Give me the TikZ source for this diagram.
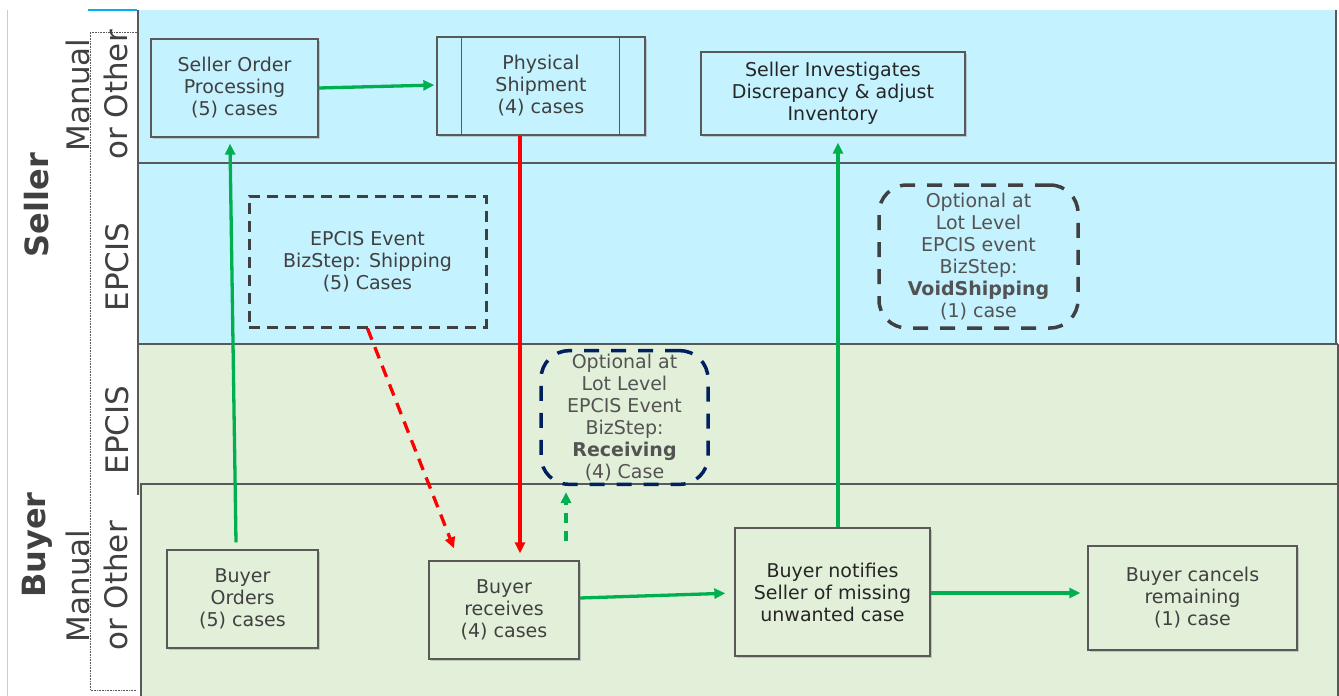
\documentclass[tikz,border=0pt]{standalone}
\usepackage{fontspec}
\setmainfont{DejaVu Sans}
\usetikzlibrary{arrows.meta, shadows}
\definecolor{sellerfill}{RGB}{197,242,255}
\definecolor{buyerfill}{RGB}{226,240,217}
\definecolor{laneline}{RGB}{89,89,89}
\definecolor{boxtext}{RGB}{64,64,64}
\definecolor{flowgreen}{RGB}{0,176,80}
\definecolor{flowred}{RGB}{255,0,0}
\definecolor{navy}{RGB}{0,32,96}
\definecolor{laneblue}{RGB}{0,176,240}
\newcommand{\boxfont}{\fontsize{19}{22}\selectfont}
\newcommand{\lanefont}{\fontsize{31}{38}\selectfont}
\tikzset{ proc/.style = { rectangle
                        , draw = laneline
                        , line width   = 1.3pt
                        , align        = center
                        , text         = boxtext
                        , font         = \boxfont
                        , inner sep    = 2pt
                        , drop shadow  = {opacity=0.35, shadow xshift=2pt, shadow yshift=-2pt}
                        },
          evt/.style  = { rectangle
                        , draw = boxtext
                        , line width   = 3pt
                        , dash pattern = on 11pt off 7pt
                        , align        = center
                        , text         = boxtext
                        , font         = \boxfont
                        },
          opt/.style  = { rectangle
                        , rounded corners = 28pt
                        , line width   = 3.5pt
                        , dash pattern = on 15pt off 12pt
                        , align        = center
                        , text         = boxtext!90
                        , font         = \boxfont
                        },
          lanelbl/.style = { rotate = 90
                        , align        = center
                        , text         = boxtext
                        , font         = \lanefont
                        },
          flow/.style = { line width = 3.3pt
                        , -{Triangle[length=11pt,width=10pt]}
                        }
        }
\begin{document}
\begin{tikzpicture}[x=1pt, y=-1pt]
\useasboundingbox (0,0) rectangle (1339,696);
% swim lanes
\fill[sellerfill] (138,10) rectangle (1336,344);
\fill[buyerfill] (138,344) rectangle (1338,495);
\fill[buyerfill] (141,484) rectangle (1338,696);
\draw[laneline, line width=1.2pt] (138,10) -- (138,344) -- (138,495);
\draw[laneline, line width=1.2pt] (1336,10) -- (1336,344);
\draw[laneline, line width=1.2pt] (1338,344) -- (1338,696);
\draw[laneline, line width=1.2pt] (138,163) -- (1336,163);
\draw[laneline, line width=1.2pt] (138,344) -- (1338,344);
\draw[laneline, line width=1.2pt] (141,696) -- (141,484) -- (1338,484);
\draw[black!20, line width=1pt] (7,10) -- (7,696);
\draw[laneblue, line width=2pt] (88,10) -- (137,10);
\draw[laneline, densely dotted, line width=0.6pt] (137,32) -- (90,32) -- (90,690) -- (137,690);

\node[lanelbl, font=\fontsize{32}{38}\selectfont\bfseries] (seller) at (37,205) {Seller};
\node[lanelbl, font=\fontsize{32}{38}\selectfont\bfseries] (buyer) at (37,545) {Buyer};
\node[lanelbl] (sman) at (97,95) {Manual\\or Other};
\node[lanelbl] (sepc) at (117,267) {EPCIS};
\node[lanelbl] (bepc) at (117,430) {EPCIS};
\node[lanelbl] (bman) at (97,586) {Manual\\or Other};

% seller steps
\node[proc, fill=sellerfill, minimum width=167pt, minimum height=98pt] (sop) at (234.5,88) {Seller Order\\Processing\\(5) cases};
\node[proc, fill=sellerfill, minimum width=208pt, minimum height=98pt] (ship) at (541,86) {Physical\\Shipment\\(4) cases};
\draw[laneline, line width=1.3pt] ([xshift=25pt]ship.north west) -- ([xshift=25pt]ship.south west);
\draw[laneline, line width=1.3pt] ([xshift=-26pt]ship.north east) -- ([xshift=-26pt]ship.south east);
\node[proc, fill=sellerfill, text=black!85, minimum width=264pt, minimum height=83pt] (inv) at (833,93.5) {Seller Investigates\\Discrepancy \& adjust\\Inventory};
\node[evt, minimum width=237pt, minimum height=131pt] (ship-evt) at (367.5,261.5) {EPCIS Event\\BizStep: Shipping\\(5) Cases};
\node[opt, draw=boxtext, minimum width=199pt, minimum height=143pt] (void-evt) at (978.5,256.5) {Optional at\\Lot Level\\EPCIS event\\BizStep:\\\textbf{VoidShipping}\\(1) case};

% buyer steps
\node[opt, draw=navy, minimum width=167pt, minimum height=131pt] (rcv-evt) at (624.5,417.5) {Optional at\\Lot Level\\EPCIS Event\\BizStep:\\\textbf{Receiving}\\(4) Case};
\node[proc, fill=buyerfill, minimum width=151pt, minimum height=98pt] (order) at (242.5,599) {Buyer\\Orders\\(5) cases};
\node[proc, fill=buyerfill, minimum width=150pt, minimum height=98pt] (recv) at (504,610) {Buyer\\receives\\(4) cases};
\node[proc, fill=buyerfill, text=black!85, minimum width=195pt, minimum height=128pt] (notify) at (832.5,592) {Buyer notifies\\Seller of missing\\unwanted case};
\node[proc, fill=buyerfill, minimum width=209pt, minimum height=104pt] (cancel) at (1192.5,598) {Buyer cancels\\remaining\\(1) case};

% flows
\draw[flow, flowgreen] ([xshift=-6.5pt, yshift=7pt]order.north) -- ([xshift=-4.5pt, yshift=-6pt]sop.south);
\draw[flow, flowgreen, shorten >=2pt] (sop.east) -- ([yshift=1pt]ship.west);
\draw[flow, flowred, shorten >=7pt] ([xshift=-21pt]ship.south) -- ([xshift=16pt]recv.north);
\draw[flow, flowred, dash pattern=on 12pt off 8pt] (ship-evt.south) -- ([xshift=-50pt, yshift=12pt]recv.north);
\draw[flow, flowgreen, dash pattern=on 10pt off 8pt] ([xshift=62pt, yshift=19pt]recv.north) -- ([xshift=-58.5pt, yshift=-6pt]rcv-evt.south);
\draw[flow, flowgreen, shorten >=9pt] ([yshift=12pt]recv.east) -- ([yshift=-1pt]notify.west);
\draw[flow, flowgreen, shorten >=7pt] ([xshift=5.5pt]notify.north) -- ([xshift=5pt]inv.south);
\draw[flow, flowgreen, shorten >=7pt] ([yshift=-1pt]notify.east) -- ([yshift=-1pt]notify.east -| cancel.west);
\end{tikzpicture}
\end{document}
